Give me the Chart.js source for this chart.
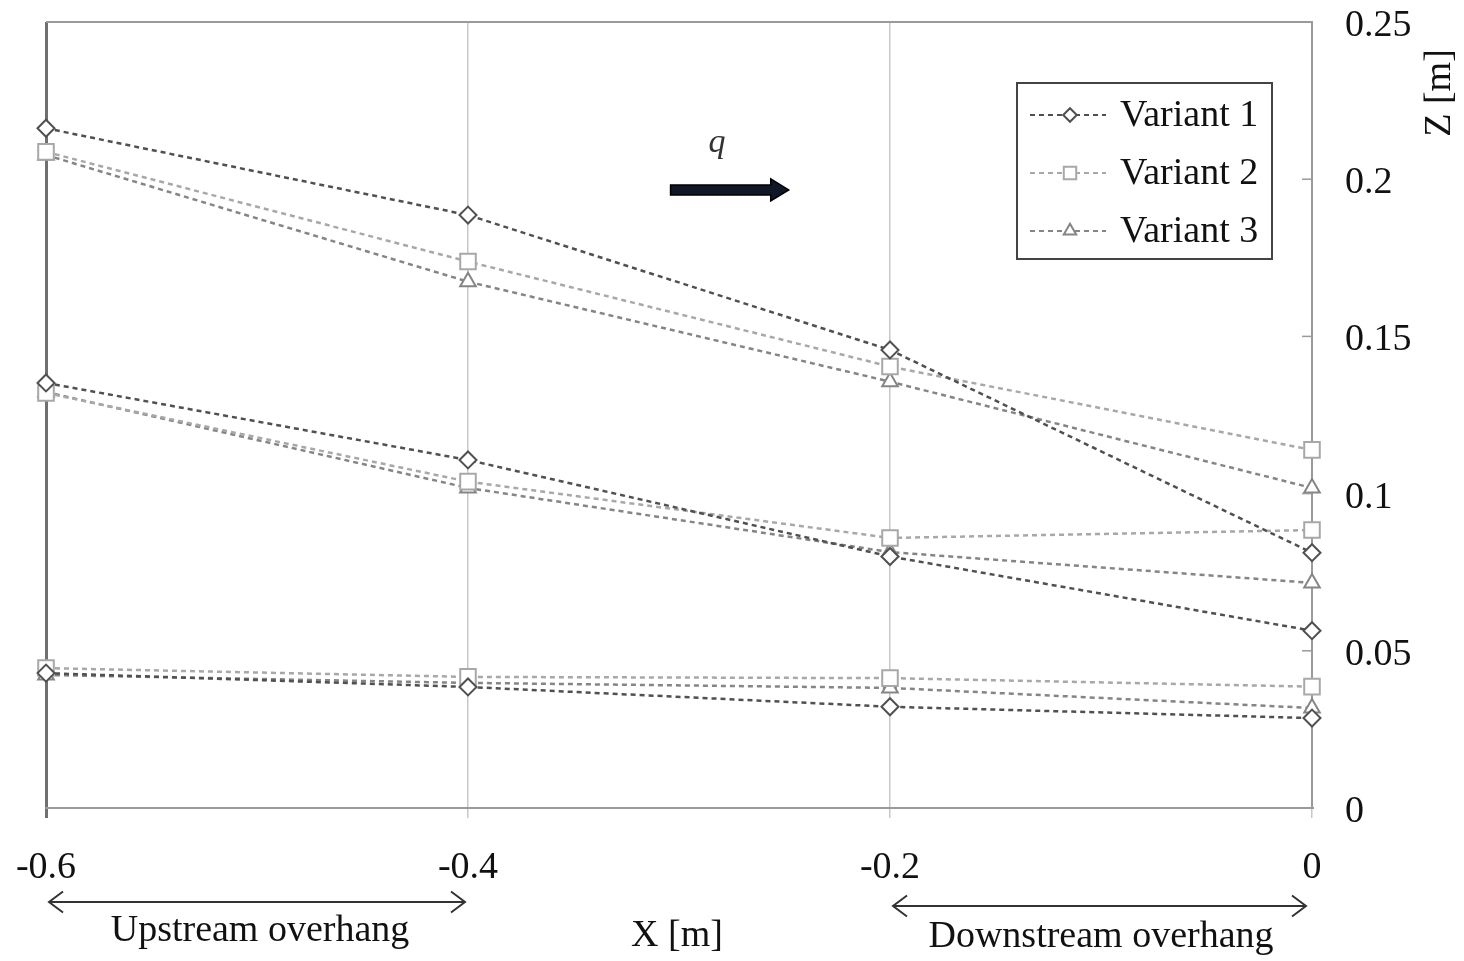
<!DOCTYPE html>
<html>
<head>
<meta charset="utf-8">
<script src="https://cdn.jsdelivr.net/npm/chart.js@4.4.1/dist/chart.umd.min.js"></script>
<style>
  html, body { margin: 0; padding: 0; background: #ffffff; }
  #wrap { width: 1464px; height: 961px; }
</style>
</head>
<body>
<div id="wrap"><canvas id="c" width="1464" height="961"></canvas></div>
<script>
// ---- data ----
const xValues = [-0.6, -0.4, -0.2, 0];
const xTicks = [-0.6, -0.4, -0.2, 0];
const yTicks = [0, 0.05, 0.1, 0.15, 0.2, 0.25];
const seriesNames = ['Variant 1', 'Variant 2', 'Variant 3'];

// upper group
const v1Upper = [0.2162, 0.1886, 0.1457, 0.0812];
const v2Upper = [0.2087, 0.1738, 0.1404, 0.1139];
const v3Upper = [0.2077, 0.1674, 0.1356, 0.1018];
// middle group
const v1Middle = [0.1352, 0.1107, 0.0800, 0.0564];
const v2Middle = [0.1320, 0.1038, 0.0859, 0.0884];
const v3Middle = [0.1323, 0.1018, 0.0814, 0.0716];
// lower group
const v1Lower = [0.0429, 0.0385, 0.0322, 0.0286];
const v2Lower = [0.0445, 0.0417, 0.0413, 0.0386];
const v3Lower = [0.0423, 0.0398, 0.0382, 0.0318];

const FONT = "'Liberation Serif', 'DejaVu Serif', serif";
const FSIZE = 38;
const TEXT = '#111111';
const styles = [
  { color: '#505050', pointStyle: 'rectRot', radius: 8.5 },
  { color: '#a8a8a8', pointStyle: 'rect', radius: 11 },
  { color: '#858585', pointStyle: 'triangle', radius: 9 }
];

function pts(vals) { return xValues.map((x, i) => ({ x: x, y: vals[i] })); }
function ds(vals, v) {
  const s = styles[v];
  return {
    label: seriesNames[v],
    data: pts(vals),
    borderColor: s.color,
    backgroundColor: '#ffffff',
    borderWidth: 2.5,
    borderDash: [5, 4],
    pointStyle: s.pointStyle,
    pointRadius: s.radius,
    pointBorderWidth: 2,
    pointBorderColor: s.color,
    pointBackgroundColor: '#ffffff',
    tension: 0,
    clip: false
  };
}

const datasets = [
  ds(v1Upper, 0), ds(v2Upper, 1), ds(v3Upper, 2),
  ds(v1Middle, 0), ds(v2Middle, 1), ds(v3Middle, 2),
  ds(v1Lower, 0), ds(v2Lower, 1), ds(v3Lower, 2)
];

function arrowHead(ctx, x, y, dir, size) {
  ctx.beginPath();
  ctx.moveTo(x - dir * size, y - size * 0.75);
  ctx.lineTo(x, y);
  ctx.lineTo(x - dir * size, y + size * 0.75);
  ctx.stroke();
}

const decor = {
  id: 'decor',
  afterDraw(chart) {
    const ctx = chart.ctx;
    const a = chart.chartArea;
    const xs = chart.scales.x, ys = chart.scales.y;
    ctx.save();
    // top border
    ctx.strokeStyle = '#9a9a9a';
    ctx.lineWidth = 2;
    ctx.beginPath();
    ctx.moveTo(a.left, a.top);
    ctx.lineTo(a.right, a.top);
    ctx.stroke();
    // inward y ticks on the right axis
    ctx.lineWidth = 1.5;
    yTicks.forEach(v => {
      const y = ys.getPixelForValue(v);
      ctx.beginPath();
      ctx.moveTo(a.right - 10, y);
      ctx.lineTo(a.right, y);
      ctx.stroke();
    });

    // legend box
    const lx = 1017, ly = 83, lw = 255, lh = 176;
    ctx.fillStyle = '#ffffff';
    ctx.fillRect(lx, ly, lw, lh);
    ctx.strokeStyle = '#444444';
    ctx.lineWidth = 2;
    ctx.strokeRect(lx, ly, lw, lh);
    seriesNames.forEach((name, i) => {
      const s = styles[i];
      const yy = 115 + i * 58;
      ctx.save();
      ctx.strokeStyle = s.color;
      ctx.lineWidth = 2;
      ctx.setLineDash([5, 4]);
      ctx.beginPath();
      ctx.moveTo(1030, yy);
      ctx.lineTo(1106, yy);
      ctx.stroke();
      ctx.restore();
      ctx.save();
      ctx.strokeStyle = s.color;
      ctx.fillStyle = '#ffffff';
      ctx.lineWidth = 2;
      Chart.helpers.drawPoint(ctx, { pointStyle: s.pointStyle, radius: s.radius * 0.8, borderWidth: 2 }, 1070, yy);
      ctx.restore();
      ctx.fillStyle = TEXT;
      ctx.font = FSIZE + 'px ' + FONT;
      ctx.textAlign = 'left';
      ctx.textBaseline = 'middle';
      ctx.fillText(name, 1120, yy + 1);
    });

    // flow arrow q
    const qx0 = xs.getPixelForValue(-0.304), qx1 = xs.getPixelForValue(-0.248);
    const qy = ys.getPixelForValue(0.1966);
    ctx.fillStyle = '#101828';
    ctx.strokeStyle = '#000000';
    ctx.lineWidth = 1.5;
    ctx.beginPath();
    ctx.moveTo(qx0, qy - 5);
    ctx.lineTo(qx1 - 18, qy - 5);
    ctx.lineTo(qx1 - 18, qy - 11);
    ctx.lineTo(qx1, qy);
    ctx.lineTo(qx1 - 18, qy + 11);
    ctx.lineTo(qx1 - 18, qy + 5);
    ctx.lineTo(qx0, qy + 5);
    ctx.closePath();
    ctx.fill();
    ctx.stroke();
    ctx.fillStyle = '#333333';
    ctx.font = 'italic 34px ' + FONT;
    ctx.textAlign = 'center';
    ctx.textBaseline = 'middle';
    ctx.fillText('q', 717, 143);

    // overhang arrows
    ctx.strokeStyle = '#333333';
    ctx.lineWidth = 2;
    const ux0 = xs.getPixelForValue(-0.6) + 3, ux1 = xs.getPixelForValue(-0.4) - 3;
    ctx.beginPath(); ctx.moveTo(ux0, 902); ctx.lineTo(ux1, 902); ctx.stroke();
    arrowHead(ctx, ux0, 902, -1, 14);
    arrowHead(ctx, ux1, 902, 1, 14);
    const dx0 = xs.getPixelForValue(-0.2) + 3, dx1 = xs.getPixelForValue(0) - 6;
    ctx.beginPath(); ctx.moveTo(dx0, 906); ctx.lineTo(dx1, 906); ctx.stroke();
    arrowHead(ctx, dx0, 906, -1, 14);
    arrowHead(ctx, dx1, 906, 1, 14);

    ctx.fillStyle = TEXT;
    ctx.font = FSIZE + 'px ' + FONT;
    ctx.textAlign = 'center';
    ctx.textBaseline = 'middle';
    ctx.fillText('Upstream overhang', 260, 931);
    ctx.fillText('Downstream overhang', 1101, 937);
    ctx.fillText('X [m]', 677, 936);

    // Z axis title (rotated)
    ctx.save();
    ctx.translate(1440, 93);
    ctx.rotate(-Math.PI / 2);
    ctx.fillText('Z [m]', 0, 0);
    ctx.restore();
    ctx.restore();
  }
};

new Chart(document.getElementById('c'), {
  type: 'line',
  data: { datasets: datasets },
  plugins: [decor],
  options: {
    responsive: false,
    animation: false,
    devicePixelRatio: 1,
    layout: { padding: { left: 46, top: 22, right: 0, bottom: 0 } },
    plugins: { legend: { display: false }, tooltip: { enabled: false } },
    scales: {
      x: {
        type: 'linear',
        position: 'bottom',
        min: -0.6, max: 0,
        afterBuildTicks(scale) { scale.ticks = xTicks.map(v => ({ value: v })); },
        afterFit(scale) {
          scale.height = 153;
          scale.paddingLeft = 0; scale.paddingRight = 0;
          scale.paddingTop = 0; scale.paddingBottom = 0;
        },
        ticks: {
          color: TEXT,
          font: { family: FONT, size: FSIZE },
          padding: 27,
          maxRotation: 0,
          callback: v => String(v)
        },
        grid: {
          color: ctx => ctx.index === 0 ? '#707070' : '#c8c8c8',
          lineWidth: ctx => ctx.index === 0 ? 3 : 1.5,
          tickLength: 10
        },
        border: { display: true, color: '#9a9a9a', width: 2 }
      },
      y: {
        type: 'linear',
        position: 'right',
        min: 0, max: 0.25,
        afterBuildTicks(scale) { scale.ticks = yTicks.map(v => ({ value: v })); },
        afterFit(scale) {
          scale.width = 152;
          scale.paddingLeft = 0; scale.paddingRight = 0;
          scale.paddingTop = 0; scale.paddingBottom = 0;
        },
        ticks: {
          color: TEXT,
          font: { family: FONT, size: FSIZE },
          padding: 33,
          labelOffset: 4,
          callback: v => String(v)
        },
        grid: { display: false, drawTicks: false },
        border: { display: true, color: '#9a9a9a', width: 2 }
      }
    }
  }
});
</script>
</body>
</html>
